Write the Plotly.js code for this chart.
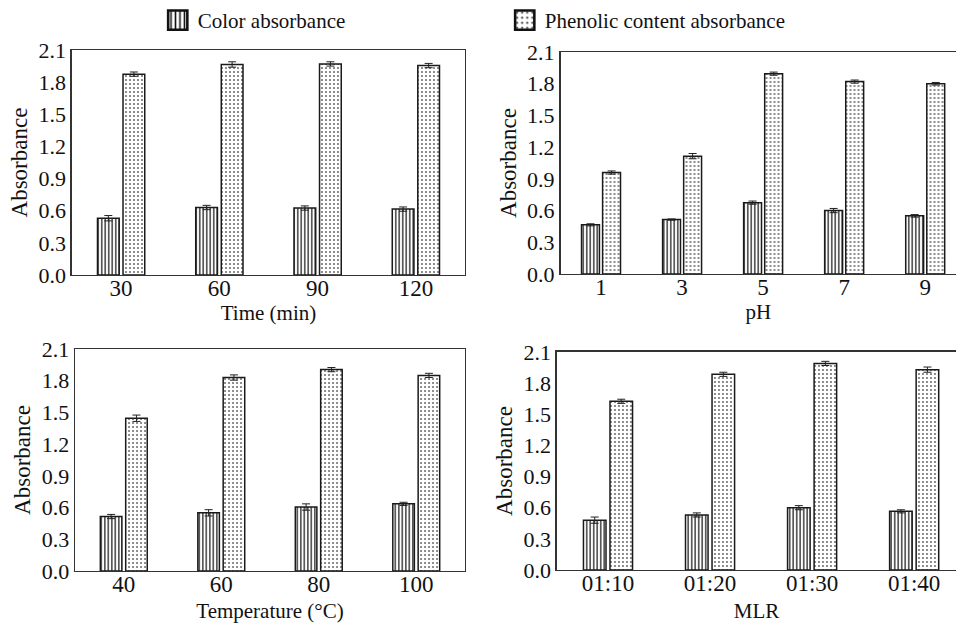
<!DOCTYPE html>
<html>
<head>
<meta charset="utf-8">
<script src="https://cdn.plot.ly/plotly-3.0.1.min.js"></script>
<style>html,body{margin:0;padding:0;overflow:hidden;background:#fff}</style>
</head>
<body>
<div id="chart" style="width:956px;height:623px"></div>
<script>
// Categories
var timeCats = ["30", "60", "90", "120"];
var phCats = ["1", "3", "5", "7", "9"];
var tempCats = ["40", "60", "80", "100"];
var mlrCats = ["01:10", "01:20", "01:30", "01:40"];

// Color absorbance
var timeColor = [0.53, 0.63, 0.625, 0.615];
var phColor = [0.465, 0.515, 0.675, 0.60, 0.55];
var tempColor = [0.515, 0.55, 0.605, 0.635];
var mlrColor = [0.48, 0.53, 0.60, 0.565];

// Phenolic content absorbance
var timePhen = [1.875, 1.965, 1.97, 1.955];
var phPhen = [0.96, 1.115, 1.895, 1.82, 1.80];
var tempPhen = [1.445, 1.83, 1.905, 1.85];
var mlrPhen = [1.625, 1.885, 1.99, 1.93];

// Error bars
var timeColorErr = [0.025, 0.02, 0.02, 0.02];
var timePhenErr = [0.02, 0.025, 0.02, 0.02];
var phColorErr = [0.01, 0.006, 0.015, 0.02, 0.012];
var phPhenErr = [0.015, 0.025, 0.015, 0.015, 0.012];
var tempColorErr = [0.02, 0.03, 0.03, 0.015];
var tempPhenErr = [0.03, 0.025, 0.02, 0.02];
var mlrColorErr = [0.03, 0.02, 0.02, 0.015];
var mlrPhenErr = [0.02, 0.02, 0.02, 0.025];

var seriesNames = ["Color absorbance", "Phenolic content absorbance"];

var FONT = "'Liberation Serif', 'Times New Roman', serif";

function colorTrace(x, y, err, xa, ya, show) {
  return {
    type: "bar", x: x, y: y, name: seriesNames[0], legendgroup: "c", showlegend: show,
    xaxis: xa, yaxis: ya,
    marker: {color: "#ffffff", line: {color: "#1a1a1a", width: 1.5},
      pattern: {shape: "|", fgcolor: "#111", bgcolor: "#ffffff", size: 3.5, solidity: 0.35}},
    error_y: {type: "data", array: err, visible: true, color: "#222", thickness: 1, width: 4}
  };
}
function phenTrace(x, y, err, xa, ya, show) {
  return {
    type: "bar", x: x, y: y, name: seriesNames[1], legendgroup: "p", showlegend: show,
    xaxis: xa, yaxis: ya,
    marker: {color: "#ffffff", line: {color: "#1a1a1a", width: 1.5},
      pattern: {shape: ".", fgcolor: "#666", bgcolor: "#ffffff", size: 4, solidity: 0.2}},
    error_y: {type: "data", array: err, visible: true, color: "#222", thickness: 1, width: 4}
  };
}

var data = [
  colorTrace(timeCats, timeColor, timeColorErr, "x", "y", true),
  phenTrace(timeCats, timePhen, timePhenErr, "x", "y", true),
  colorTrace(phCats, phColor, phColorErr, "x2", "y2", false),
  phenTrace(phCats, phPhen, phPhenErr, "x2", "y2", false),
  colorTrace(tempCats, tempColor, tempColorErr, "x3", "y3", false),
  phenTrace(tempCats, tempPhen, tempPhenErr, "x3", "y3", false),
  colorTrace(mlrCats, mlrColor, mlrColorErr, "x4", "y4", false),
  phenTrace(mlrCats, mlrPhen, mlrPhenErr, "x4", "y4", false)
];

function xax(domain, anchor, title, standoff, range) {
  var a = {
    domain: domain, anchor: anchor, type: "category",
    showline: true, linecolor: "#333", linewidth: 1.5, mirror: true,
    showgrid: false, ticks: "", zeroline: false, ticklabelstandoff: -8,
    tickfont: {family: FONT, size: 23, color: "#111"},
    title: {text: title, font: {family: FONT, size: 21, color: "#111"}, standoff: standoff}
  };
  if (range) a.range = range;
  return a;
}
function yax(domain, anchor, mirror) {
  return {
    domain: domain, anchor: anchor, range: [0, 2.1], tickvals: [0, 0.3, 0.6, 0.9, 1.2, 1.5, 1.8, 2.1],
    ticktext: ["0.0", "0.3", "0.6", "0.9", "1.2", "1.5", "1.8", "2.1"],
    showline: true, linecolor: "#333", linewidth: 1.5, mirror: mirror,
    showgrid: false, ticks: "", zeroline: false,
    tickfont: {family: FONT, size: 22, color: "#111"},
    title: {text: "Absorbance", font: {family: FONT, size: 23, color: "#111"}, standoff: 4}
  };
}

var layout = {
  width: 956, height: 623,
  margin: {l: 0, r: 0, t: 0, b: 0},
  paper_bgcolor: "#fff", plot_bgcolor: "#fff",
  barmode: "group", bargap: 0.48, bargroupgap: 0.15,
  font: {family: FONT, color: "#111"},
  showlegend: true,
  legend: {orientation: "h", x: 0.165, xanchor: "left", y: 1.0, yanchor: "top",
    entrywidth: 302, entrywidthmode: "pixels",
    font: {family: FONT, size: 21, color: "#111"}, bgcolor: "rgba(0,0,0,0)"},
  xaxis: xax([0.0753, 0.4864], "y", "Time (min)", 0),
  yaxis: yax([0.5586, 0.9197], "x", true),
  xaxis2: xax([0.5863, 1.0], "y2", "pH", 0, [-0.5, 4.38]),
  yaxis2: yax([0.5602, 0.9165], "x2", false),
  xaxis3: xax([0.0785, 0.4864], "y3", "Temperature (°C)", 17),
  yaxis3: yax([0.0835, 0.4398], "x3", true),
  xaxis4: xax([0.5826, 1.0], "y4", "MLR", 17, [-0.5, 3.41]),
  yaxis4: yax([0.0851, 0.4350], "x4", false)
};

Plotly.newPlot("chart", data, layout, {displayModeBar: false, staticPlot: true}).then(function () {
  // enlarge legend swatches to match the reference's bigger boxed icons
  var pts = document.querySelectorAll(".legend .legendpoints path");
  pts.forEach(function (p) {
    var t = p.getAttribute("transform") || "";
    p.setAttribute("transform", t + " scale(1.6)");
    p.style.strokeWidth = "1.6px";
    p.style.stroke = "#111";
  });
});
</script>
</body>
</html>
